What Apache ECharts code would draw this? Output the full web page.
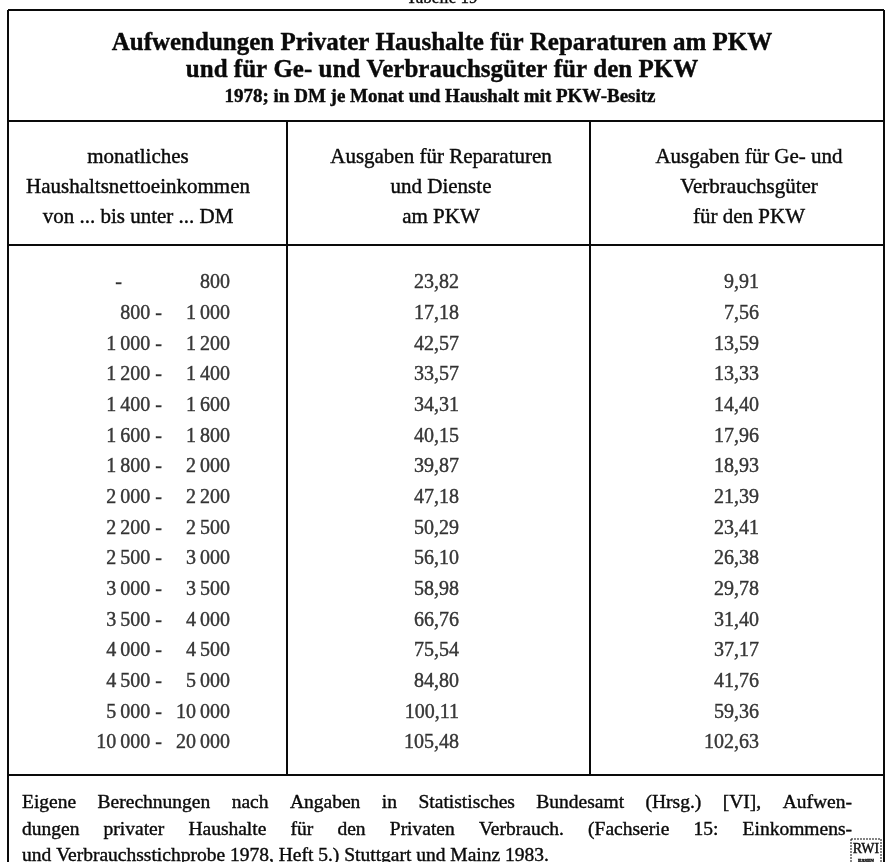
<!DOCTYPE html>
<html>
<head>
<meta charset="utf-8">
<script src="https://cdn.jsdelivr.net/npm/echarts@6/dist/echarts.min.js"></script>
<style>
  html, body { margin: 0; padding: 0; background: #fff; }
  #main { width: 885px; height: 862px; }
</style>
</head>
<body>
<div id="main"></div>
<script>
'use strict';
// Tabelle 19 - Ausgaben privater Haushalte fuer den PKW, 1978
const incomeFrom = [null, 800, 1000, 1200, 1400, 1600, 1800, 2000, 2200, 2500, 3000, 3500, 4000, 4500, 5000, 10000];
const incomeTo = [800, 1000, 1200, 1400, 1600, 1800, 2000, 2200, 2500, 3000, 3500, 4000, 4500, 5000, 10000, 20000];
const repairs = [23.82, 17.18, 42.57, 33.57, 34.31, 40.15, 39.87, 47.18, 50.29, 56.10, 58.98, 66.76, 75.54, 84.80, 100.11, 105.48];
const goods = [9.91, 7.56, 13.59, 13.33, 14.40, 17.96, 18.93, 21.39, 23.41, 26.38, 29.78, 31.40, 37.17, 41.76, 59.36, 102.63];
const columns = ['einkommen', 'reparaturen', 'verbrauch'];
const titleLines = [
    'Aufwendungen Privater Haushalte für Reparaturen am PKW',
    'und für Ge- und Verbrauchsgüter für den PKW'
];
const subtitle = '1978; in DM je Monat und Haushalt mit PKW-Besitz';
const headers = [
    'monatliches\nHaushaltsnettoeinkommen\nvon ... bis unter ... DM',
    'Ausgaben für Reparaturen\nund Dienste\nam PKW',
    'Ausgaben für Ge- und\nVerbrauchsgüter\nfür den PKW'
];
const footnote = [
    'Eigene Berechnungen nach Angaben in Statistisches Bundesamt (Hrsg.) [VI], Aufwen-',
    'dungen privater Haushalte für den Privaten Verbrauch. (Fachserie 15: Einkommens-',
    'und Verbrauchsstichprobe 1978, Heft 5.) Stuttgart und Mainz 1983.'
];

const FONT = '"Liberation Serif", "DejaVu Serif", serif';
const INK = '#0a0a0a';

function fmtInt(n) {
    let s = String(n);
    if (n >= 1000) {
        s = s.slice(0, s.length - 3) + '\u2009' + s.slice(s.length - 3);
    }
    return s;
}
function fmtDec(v) {
    return v.toFixed(2).replace('.', ',');
}

const rowKeys = incomeTo.map((v, i) => 'r' + i);

let dom = document.getElementById('main');
let myChart = echarts.init(dom, null, {renderer: 'canvas'});

// the scan prints a little heavier than a clean serif, a thin outline imitates that
const textStyleBody = {
    color: INK,
    fontFamily: FONT,
    fontSize: 20,
    textBorderColor: INK,
    textBorderWidth: 0.4
};

function labelSeries(name, col, values, formatter, align, offsetX) {
    return {
        name: name,
        type: 'scatter',
        symbolSize: 0,
        silent: true,
        data: values.map((v, i) => ({value: [col, rowKeys[i]], raw: v})),
        label: {
            show: true,
            position: 'inside',
            align: align,
            verticalAlign: 'middle',
            offset: [offsetX, 0],
            formatter: function (p) {
                return formatter(p.data.raw);
            },
            ...textStyleBody
        }
    };
}

const lineStyle = {stroke: INK, lineWidth: 2};
function hline(y, x1, x2) {
    return {type: 'line', shape: {x1: x1, y1: y, x2: x2, y2: y}, style: lineStyle, silent: true};
}
function vline(x, y1, y2) {
    return {type: 'line', shape: {x1: x, y1: y1, x2: x, y2: y2}, style: lineStyle, silent: true};
}
function text(str, x, y, size, weight, align) {
    return {
        type: 'text', x: x, y: y, silent: true,
        style: {
            text: str, fontFamily: FONT, fontSize: size, fontWeight: weight || 'normal',
            fill: INK, align: align || 'center', verticalAlign: 'middle',
            stroke: INK, lineWidth: 0.4
        }
    };
}

// block-justified footnote lines (all but the last)
const measureCtx = document.createElement('canvas').getContext('2d');
function justifyLine(str, x1, x2, y, size) {
    measureCtx.font = size + 'px ' + FONT;
    const words = str.split(' ');
    const widths = words.map(w => measureCtx.measureText(w).width);
    const total = widths.reduce((a, b) => a + b, 0);
    const gap = (x2 - x1 - total) / (words.length - 1);
    let x = x1;
    return words.map((w, i) => {
        const el = text(w, x, y, size, 'normal', 'left');
        x += widths[i] + gap;
        return el;
    });
}

const colX = [8, 287, 590, 884];
const yTop = 10, yTitle = 121, yHead = 245, yBody = 775, yEnd = 870;

let option = {
    backgroundColor: '#fff',
    animation: false,
    grid: {left: 8, right: 1, top: 267.7, bottom: 103.7},
    xAxis: {type: 'category', data: columns, show: false, boundaryGap: true},
    yAxis: {type: 'category', data: rowKeys, inverse: true, show: false, boundaryGap: true},
    series: [
        labelSeries('von', columns[0], incomeFrom,
            v => v === null ? '-\u2007\u2007\u2007\u2007' : fmtInt(v) + ' -', 'right', 8),
        labelSeries('bis', columns[0], incomeTo, v => fmtInt(v), 'right', 76),
        labelSeries('Reparaturen', columns[1], repairs, fmtDec, 'right', 13),
        labelSeries('Verbrauchsgueter', columns[2], goods, fmtDec, 'right', 21)
    ],
    graphic: [
        text('Tabelle 19', 442, -1, 17),
        text(titleLines[0], 442, 44, 25, 'bold'),
        text(titleLines[1], 442, 71, 25, 'bold'),
        text(subtitle, 440, 97, 19, 'bold'),
        hline(yTop, colX[0], colX[3]),
        hline(yTitle, colX[0], colX[3]),
        hline(yHead, colX[0], colX[3]),
        hline(yBody, colX[0], colX[3]),
        vline(colX[0], yTop, yEnd),
        vline(colX[3], yTop, yEnd),
        vline(colX[1], yTitle, yBody),
        vline(colX[2], yTitle, yBody),
        ...headers.map((h, i) => ({
            type: 'text',
            x: [138, 441, 749][i],
            y: 187,
            silent: true,
            style: {
                text: h, fontFamily: FONT, fontSize: 21, lineHeight: 30,
                fill: INK, align: 'center', verticalAlign: 'middle',
                stroke: INK, lineWidth: 0.4
            }
        })),
        ...justifyLine(footnote[0], 22, 852, 803, 19.5),
        ...justifyLine(footnote[1], 22, 852, 830, 19.5),
        text(footnote[2], 22, 856, 19.5, 'normal', 'left'),
        text('RWI', 866, 849, 14),
        text('ESSEN', 866, 861, 5, 'bold'),
        {
            type: 'rect', shape: {x: 851, y: 839, width: 30, height: 28}, silent: true,
            style: {fill: 'none', stroke: INK, lineWidth: 1, lineDash: [2, 1]}
        }
    ]
};

if (option && typeof option === 'object') {
    myChart.setOption(option, true);
}
</script>
</body>
</html>
